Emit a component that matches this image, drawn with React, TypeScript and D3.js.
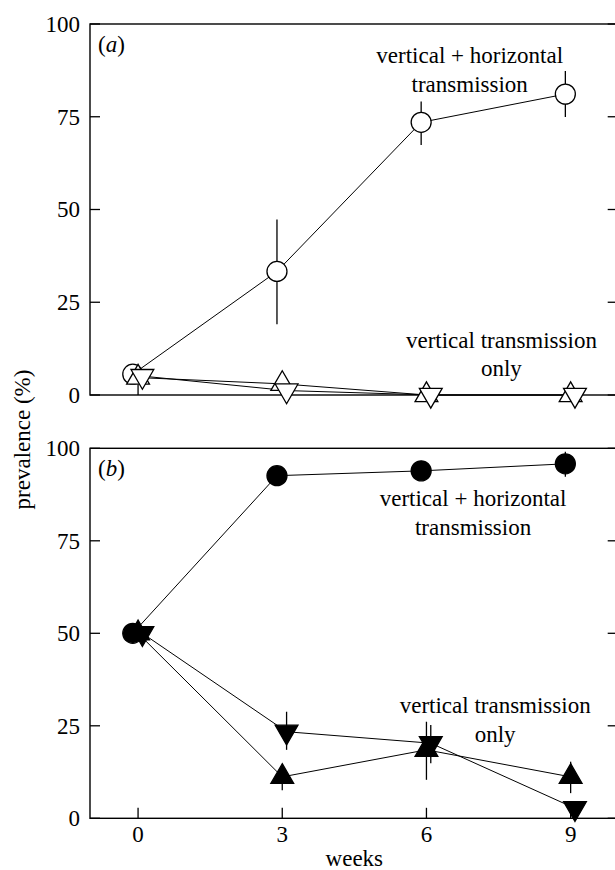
import * as d3 from "d3";

// shared x values (weeks)
const weeks = [0, 3, 6, 9];
const xTicks = [0, 3, 6, 9];
const yTicks = [0, 25, 50, 75, 100];

// panel (a): open markers
const aCircle = [5.6, 33.3, 73.5, 81.1];
const aCircleErr: ([number, number] | null)[] = [null, [19.1, 47.3], [67.4, 79.1], [74.9, 87.3]];
const aUp = [4.7, 3.0, 0, 0];
const aDown = [5.1, 1.2, 0, 0];

// panel (b): filled markers
const bCircle = [50, 92.6, 93.9, 95.8];
const bCircleErr: ([number, number] | null)[] = [null, null, null, [92.3, 99.1]];
const bUp = [50, 11.2, 18.5, 11.2];
const bUpErr: ([number, number] | null)[] = [null, [7.6, 14.4], [10.4, 26.1], [6.8, 15.3]];
const bDown = [50, 23.4, 20.3, 2.7];
const bDownErr: ([number, number] | null)[] = [null, [18.5, 28.8], [14.9, 25.2], null];

// small horizontal jitter (weeks) used in the original plot
const jitter = { circle: -0.11, up: 0, down: 0.09 };

type Note = { text: string; x: number; y: number };
const aNotes: Note[] = [
  { text: "vertical + horizontal", x: 6.9, y: 89.6 },
  { text: "transmission", x: 6.9, y: 81.8 },
  { text: "vertical transmission", x: 7.56, y: 12.6 },
  { text: "only", x: 7.56, y: 5.1 },
];
const bNotes: Note[] = [
  { text: "vertical + horizontal", x: 6.97, y: 84.4 },
  { text: "transmission", x: 6.97, y: 76.6 },
  { text: "vertical transmission", x: 7.43, y: 28.4 },
  { text: "only", x: 7.43, y: 20.7 },
];

const W = 615;
const H = 870;
const FS = 23;
const textStyle = { fontFamily: '"Liberation Serif"', fontSize: FS };

const xScale = d3.scaleLinear().domain([-1, 10]).range([90, 618.7]);

type Series = {
  values: number[];
  err?: ([number, number] | null)[];
  kind: "circle" | "up" | "down";
  filled: boolean;
};

function Panel({
  top,
  bottom,
  label,
  series,
  notes,
}: {
  top: number;
  bottom: number;
  label: string;
  series: Series[];
  notes: Note[];
}) {
  const yScale = d3.scaleLinear().domain([0, 100]).range([bottom, top]);
  const line = d3
    .line<[number, number]>()
    .x((d) => xScale(d[0]))
    .y((d) => yScale(d[1]));
  const tri = d3.symbol(d3.symbolTriangle, 225)() ?? "";
  const left = xScale(-1);
  const right = xScale(10);

  return (
    <g>
      {/* frame */}
      <rect
        x={left}
        y={top}
        width={right - left}
        height={bottom - top}
        fill="none"
        stroke="#000"
        strokeWidth={1.4}
      />
      {yTicks.map((t) => (
        <g key={t}>
          <line x1={left} x2={left + 10} y1={yScale(t)} y2={yScale(t)} stroke="#000" strokeWidth={1.3} />
          <line x1={right - 11} x2={right} y1={yScale(t)} y2={yScale(t)} stroke="#000" strokeWidth={1.3} />
          <text x={80} y={yScale(t) + 7.8} textAnchor="end" style={textStyle}>
            {t}
          </text>
        </g>
      ))}
      {xTicks.map((t) => (
        <line
          key={t}
          x1={xScale(t)}
          x2={xScale(t)}
          y1={bottom}
          y2={bottom - 10.5}
          stroke="#000"
          strokeWidth={1.3}
        />
      ))}
      <text x={left + 8} y={top + 28} style={textStyle}>
        (<tspan style={{ fontStyle: "italic" }}>{label}</tspan>)
      </text>

      {/* lines */}
      {series.map((s, i) => (
        <path
          key={`l${i}`}
          d={line(s.values.map((v, j) => [weeks[j] + jitter[s.kind], v])) ?? ""}
          fill="none"
          stroke="#000"
          strokeWidth={1}
        />
      ))}
      {/* error bars */}
      {series.map((s, i) =>
        (s.err ?? []).map((e, j) =>
          e ? (
            <line
              key={`e${i}-${j}`}
              x1={xScale(weeks[j] + jitter[s.kind])}
              x2={xScale(weeks[j] + jitter[s.kind])}
              y1={yScale(e[0])}
              y2={yScale(e[1])}
              stroke="#000"
              strokeWidth={1.3}
            />
          ) : null,
        ),
      )}
      {/* markers */}
      {series.map((s, i) =>
        s.values.map((v, j) => {
          const cx = xScale(weeks[j] + jitter[s.kind]);
          const cy = yScale(v);
          const fill = s.filled ? "#000" : "#fff";
          if (s.kind === "circle") {
            return (
              <circle key={`m${i}-${j}`} cx={cx} cy={cy} r={10} fill={fill} stroke="#000" strokeWidth={1.3} />
            );
          }
          return (
            <path
              key={`m${i}-${j}`}
              d={tri}
              transform={`translate(${cx},${cy})${s.kind === "down" ? " rotate(180)" : ""}`}
              fill={fill}
              stroke="#000"
              strokeWidth={1.3}
            />
          );
        }),
      )}

      {notes.map((n, i) => (
        <text key={`n${i}`} x={xScale(n.x)} y={yScale(n.y)} textAnchor="middle" style={textStyle}>
          {n.text}
        </text>
      ))}
    </g>
  );
}

export default function App() {
  return (
    <svg
      width={W}
      height={H}
      viewBox={`0 0 ${W} ${H}`}
      style={{ position: "absolute", left: 0, top: 0, display: "block", background: "#fff" }}
    >
      <rect width={W} height={H} fill="#fff" />
      <Panel
        top={24}
        bottom={395}
        label="a"
        notes={aNotes}
        series={[
          { values: aCircle, err: aCircleErr, kind: "circle", filled: false },
          { values: aUp, kind: "up", filled: false },
          { values: aDown, kind: "down", filled: false },
        ]}
      />
      <Panel
        top={448.3}
        bottom={818.3}
        label="b"
        notes={bNotes}
        series={[
          { values: bCircle, err: bCircleErr, kind: "circle", filled: true },
          { values: bUp, err: bUpErr, kind: "up", filled: true },
          { values: bDown, err: bDownErr, kind: "down", filled: true },
        ]}
      />
      {xTicks.map((t) => (
        <text key={t} x={xScale(t)} y={841.5} textAnchor="middle" style={textStyle}>
          {t}
        </text>
      ))}
      <text x={xScale(4.5)} y={866} textAnchor="middle" style={textStyle}>
        weeks
      </text>
      <text transform="translate(30,439.5) rotate(-90)" textAnchor="middle" style={textStyle}>
        prevalence (%)
      </text>
    </svg>
  );
}
